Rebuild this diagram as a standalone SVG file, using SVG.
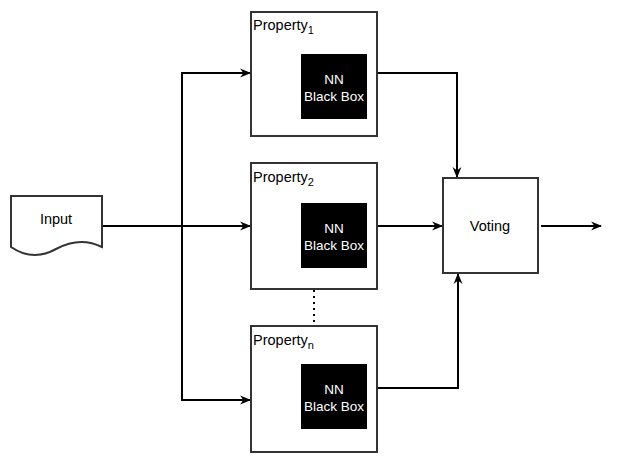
<svg xmlns="http://www.w3.org/2000/svg" width="619" height="462" viewBox="0 0 619 462">
<style>
.box{fill:#fff;stroke:#333;stroke-width:2}
.bb{fill:#000}
.t{font-family:"Liberation Sans",Arial,sans-serif;font-size:14.5px;fill:#000}
.w{font-family:"Liberation Sans",Arial,sans-serif;font-size:13.5px;fill:#fff;text-anchor:middle}
.ln{fill:none;stroke:#000;stroke-width:2}
</style>
<defs>
<marker id="a" viewBox="0 0 10 10" refX="9" refY="5" markerWidth="11" markerHeight="11" markerUnits="userSpaceOnUse" orient="auto">
<path d="M0,1 L10,5 L0,9 L3,5 Z" fill="#000"/>
</marker>
</defs>
<g id="connectors">
<path class="ln" d="M102,226 L250,226" marker-end="url(#a)"/>
<path class="ln" d="M182,226 L182,73 L250,73" marker-end="url(#a)"/>
<path class="ln" d="M182,226 L182,400 L250,400" marker-end="url(#a)"/>
<path class="ln" d="M377,73 L457,73 L457,177" marker-end="url(#a)"/>
<path class="ln" d="M377,226 L442,226" marker-end="url(#a)"/>
<path class="ln" d="M377,388 L458,388 L458,274" marker-end="url(#a)"/>
<path class="ln" d="M541,226 L601,226" marker-end="url(#a)"/>
<path d="M314,290 L314,326" fill="none" stroke="#000" stroke-width="2" stroke-dasharray="2,4"/>
</g>
<g id="input">
<path class="box" d="M11,196 L102,196 L102,247 Q80,236 56,249 Q33,262 11,247 Z"/>
<text class="t" x="56" y="224" text-anchor="middle" font-size="17">Input</text>
</g>
<g id="property1">
<rect class="box" x="251" y="12" width="126" height="124"/>
<text class="t" x="253" y="30">Property<tspan font-size="11" dy="4">1</tspan></text>
<rect class="bb" x="301" y="54" width="66" height="65"/>
<text class="w" x="334" y="84">NN</text>
<text class="w" x="334" y="101">Black Box</text>
</g>
<g id="property2">
<rect class="box" x="251" y="163" width="126" height="126"/>
<text class="t" x="253" y="182">Property<tspan font-size="11" dy="4">2</tspan></text>
<rect class="bb" x="301" y="203" width="66" height="65"/>
<text class="w" x="334" y="233">NN</text>
<text class="w" x="334" y="250">Black Box</text>
</g>
<g id="propertyn">
<rect class="box" x="251" y="326" width="126" height="126"/>
<text class="t" x="253" y="345">Property<tspan font-size="11" dy="4">n</tspan></text>
<rect class="bb" x="301" y="364" width="66" height="65"/>
<text class="w" x="334" y="394">NN</text>
<text class="w" x="334" y="411">Black Box</text>
</g>
<g id="voting">
<rect class="box" x="443" y="178" width="95" height="95"/>
<text class="t" x="490" y="231" text-anchor="middle" font-size="15">Voting</text>
</g>
</svg>
